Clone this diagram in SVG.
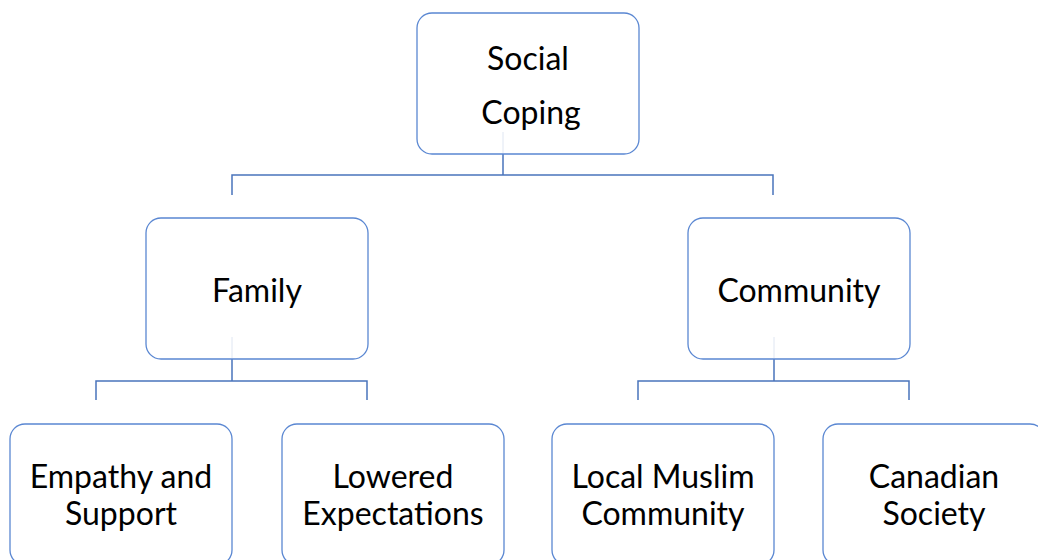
<svg xmlns="http://www.w3.org/2000/svg" width="1038" height="560" viewBox="0 0 1038 560">
  <style>
    .box { fill: #ffffff; stroke: #5a87d2; stroke-width: 1.3; }
    .lbl { font-family: "Lato", "Open Sans", sans-serif; font-size: 32px; fill: #000000; text-anchor: middle; }
    .link { fill: none; stroke: #4a74bc; stroke-width: 1.5; }
    .ghost { fill: none; stroke: #dfe6f2; stroke-width: 1; }
  </style>
  <rect width="1038" height="560" fill="#ffffff"/>

  <!-- connectors -->
  <g id="connectors">
    <path class="link" d="M503 154 V175 M232 195 V175 H773 V195"/>
    <path class="link" d="M232 359 V381 M96 400 V381 H367 V400"/>
    <path class="link" d="M774 359 V381 M638 400 V381 H909 V400"/>
  </g>

  <g id="social-coping">
    <rect class="box" x="417" y="13" width="222" height="141" rx="15"/>
    <line class="ghost" x1="503" y1="132" x2="503" y2="153"/>
    <text class="lbl" x="528" y="70">Social</text>
    <text class="lbl" x="531" y="124">Coping</text>
  </g>

  <g id="family">
    <rect class="box" x="146" y="218" width="222" height="141" rx="15"/>
    <line class="ghost" x1="232" y1="337" x2="232" y2="358"/>
    <text class="lbl" x="257" y="302">Family</text>
  </g>

  <g id="community">
    <rect class="box" x="688" y="218" width="222" height="141" rx="15"/>
    <line class="ghost" x1="774" y1="337" x2="774" y2="358"/>
    <text class="lbl" x="799" y="302">Community</text>
  </g>

  <g id="empathy-support">
    <rect class="box" x="10" y="424" width="222" height="141" rx="15"/>
    <text class="lbl" x="121" y="488">Empathy and</text>
    <text class="lbl" x="121" y="525">Support</text>
  </g>

  <g id="lowered-expectations">
    <rect class="box" x="282" y="424" width="222" height="141" rx="15"/>
    <text class="lbl" x="393" y="488">Lowered</text>
    <text class="lbl" x="393" y="525">Expectations</text>
  </g>

  <g id="local-muslim-community">
    <rect class="box" x="552" y="424" width="222" height="141" rx="15"/>
    <text class="lbl" x="663" y="488">Local Muslim</text>
    <text class="lbl" x="663" y="525">Community</text>
  </g>

  <g id="canadian-society">
    <rect class="box" x="823" y="424" width="222" height="141" rx="15"/>
    <text class="lbl" x="934" y="488">Canadian</text>
    <text class="lbl" x="934" y="525">Society</text>
  </g>
</svg>
